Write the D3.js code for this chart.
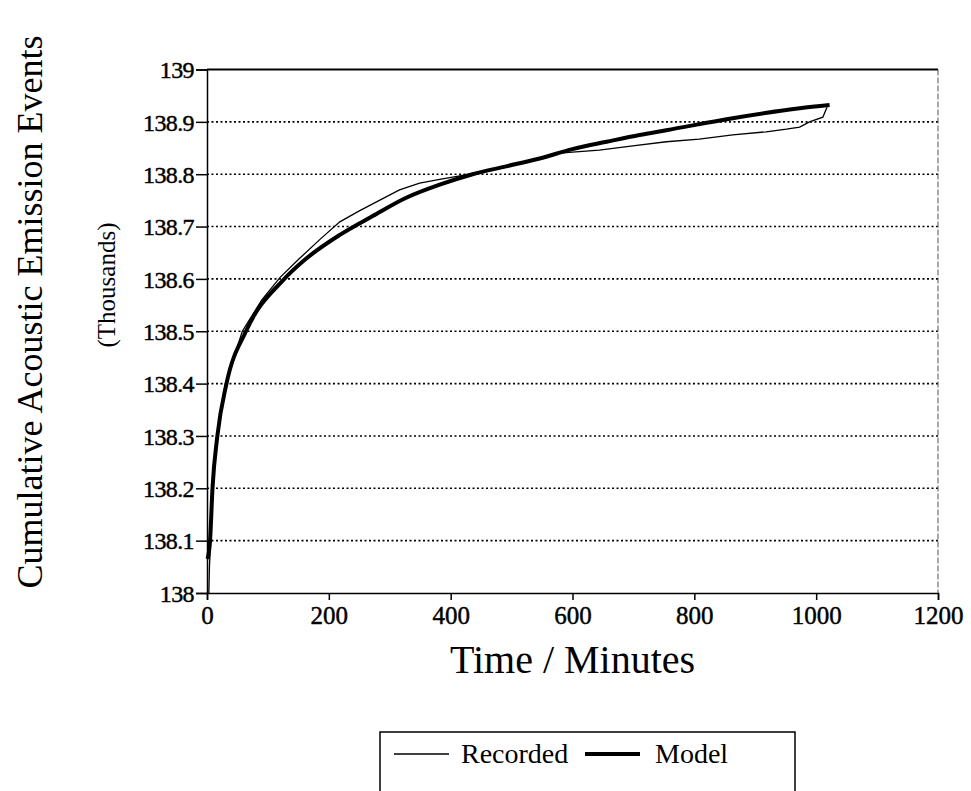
<!DOCTYPE html>
<html>
<head>
<meta charset="utf-8">
<script src="https://cdn.jsdelivr.net/npm/d3@7"></script>
<style>
  body { margin: 0; background: #fff; }
  text { font-family: "Liberation Serif", "DejaVu Serif", serif; fill: #000; }
  .domain { stroke: #000; stroke-width: 1.5; }
  .tick line { stroke: #000; stroke-width: 1.5; }
  .tick text { stroke: #000; stroke-width: 0.45px; }
</style>
</head>
<body>
<div id="chart"></div>
<script>
  // (time in minutes, events in thousands)
  var timeModel = [1, 5, 9, 17, 32, 64, 127, 160, 218, 272, 327, 382, 436, 491, 546, 600, 656, 710, 754, 863, 973, 1022];
  var eventsModel = [138.065, 138.1, 138.2, 138.3, 138.4, 138.5, 138.6, 138.636, 138.684, 138.72, 138.755, 138.78, 138.8, 138.815, 138.83, 138.848, 138.862, 138.875, 138.884, 138.907, 138.926, 138.932];

  var timeRecorded = [3, 4, 6, 9, 16, 30, 58, 90, 120, 150, 185, 218, 250, 283, 316, 349, 382, 415, 450, 490, 530, 560, 575, 600, 644, 699, 754, 808, 863, 918, 951, 973, 989, 1011, 1016, 1018];
  var eventsRecorded = [138.0, 138.05, 138.1, 138.2, 138.3, 138.4, 138.5, 138.56, 138.603, 138.637, 138.675, 138.709, 138.73, 138.75, 138.77, 138.783, 138.79, 138.797, 138.805, 138.815, 138.826, 138.833, 138.84, 138.842, 138.846, 138.854, 138.862, 138.867, 138.875, 138.881, 138.886, 138.89, 138.9, 138.909, 138.923, 138.928];

  var xTicks = [0, 200, 400, 600, 800, 1000, 1200];
  var yTicks = [138, 138.1, 138.2, 138.3, 138.4, 138.5, 138.6, 138.7, 138.8, 138.9, 139];
  var seriesNames = ["Recorded", "Model"];

  var svgWidth = 971;
  var svgHeight = 791;

  var margin = { top: 69.5, bottom: 198, left: 207, right: 33 };
  var width = svgWidth - margin.left - margin.right;
  var height = svgHeight - margin.top - margin.bottom;

  var svg = d3.select("#chart")
    .append("svg")
    .attr("width", svgWidth)
    .attr("height", svgHeight);

  var chartGroup = svg.append("g")
    .attr("transform", `translate(${margin.left}, ${margin.top})`);

  // scales
  var xScale = d3.scaleLinear().domain([0, 1200]).range([0, width]);
  var yScale = d3.scaleLinear().domain([138, 139]).range([height, 0]);

  // dotted gridlines
  chartGroup.selectAll(".grid")
    .data(yTicks.filter(d => d > 138 && d < 139))
    .enter()
    .append("line")
    .attr("x1", 0)
    .attr("x2", width)
    .attr("y1", d => yScale(d))
    .attr("y2", d => yScale(d))
    .attr("stroke", "#000")
    .attr("stroke-width", 1.6)
    .attr("stroke-dasharray", "2,2.5");

  // top and right frame
  chartGroup.append("line")
    .attr("x1", 0).attr("x2", width)
    .attr("y1", 0).attr("y2", 0)
    .attr("stroke", "#000").attr("stroke-width", 1.8);

  chartGroup.append("line")
    .attr("x1", width).attr("x2", width)
    .attr("y1", 0).attr("y2", height)
    .attr("stroke", "#555").attr("stroke-width", 1)
    .attr("stroke-dasharray", "6,2");

  // axes
  var xAxis = d3.axisBottom(xScale)
    .tickValues(xTicks)
    .tickSize(7)
    .tickPadding(6)
    .tickFormat(d3.format("d"));

  var yAxis = d3.axisLeft(yScale)
    .tickValues(yTicks)
    .tickSize(11)
    .tickPadding(2)
    .tickFormat(d => d3.format("")(+d.toFixed(1)));

  chartGroup.append("g")
    .attr("transform", `translate(0, ${height})`)
    .call(xAxis)
    .attr("font-family", "Liberation Serif")
    .attr("font-size", 25)
    .call(g => g.select(".domain").attr("stroke-width", 2));

  chartGroup.append("g")
    .call(yAxis)
    .attr("font-family", "Liberation Serif")
    .attr("font-size", 24)
    .call(g => g.selectAll(".tick text").attr("dy", "0.34em").attr("letter-spacing", "-0.6px"));

  // lines
  var recorded = timeRecorded.map((t, i) => ({ t: t, v: eventsRecorded[i] }));
  var model = timeModel.map((t, i) => ({ t: t, v: eventsModel[i] }));

  var line = d3.line()
    .x(d => xScale(d.t))
    .y(d => yScale(d.v));

  chartGroup.append("path")
    .datum(recorded)
    .attr("fill", "none")
    .attr("stroke", "#000")
    .attr("stroke-width", 1.3)
    .attr("d", line);

  chartGroup.append("path")
    .datum(model)
    .attr("fill", "none")
    .attr("stroke", "#000")
    .attr("stroke-width", 4)
    .attr("stroke-linejoin", "round")
    .attr("d", line.curve(d3.curveMonotoneX));

  // axis titles
  chartGroup.append("text")
    .attr("transform", `translate(${width / 2}, ${height + 80})`)
    .attr("text-anchor", "middle")
    .style("font-size", "40px")
    .text("Time / Minutes");

  svg.append("text")
    .attr("transform", "translate(42, 312) rotate(-90)")
    .attr("text-anchor", "middle")
    .style("font-size", "36px")
    .text("Cumulative Acoustic Emission Events");

  svg.append("text")
    .attr("transform", "translate(115, 285) rotate(-90)")
    .attr("text-anchor", "middle")
    .style("font-size", "25px")
    .text("(Thousands)");

  // legend (box runs off the bottom of the page)
  var legend = svg.append("g");

  legend.append("rect")
    .attr("x", 380)
    .attr("y", 732)
    .attr("width", 415)
    .attr("height", 80)
    .attr("fill", "none")
    .attr("stroke", "#000")
    .attr("stroke-width", 1.5);

  var keyX = [394, 585];
  var labelX = [461, 655];
  var keyW = [1.3, 4];
  legend.selectAll(".key")
    .data(seriesNames)
    .enter()
    .append("line")
    .attr("x1", (d, i) => keyX[i])
    .attr("x2", (d, i) => keyX[i] + 55)
    .attr("y1", 754)
    .attr("y2", 754)
    .attr("stroke", "#000")
    .attr("stroke-width", (d, i) => keyW[i]);

  legend.selectAll(".label")
    .data(seriesNames)
    .enter()
    .append("text")
    .attr("x", (d, i) => labelX[i])
    .attr("y", 763)
    .style("font-size", "28px")
    .text(d => d);
</script>
</body>
</html>
